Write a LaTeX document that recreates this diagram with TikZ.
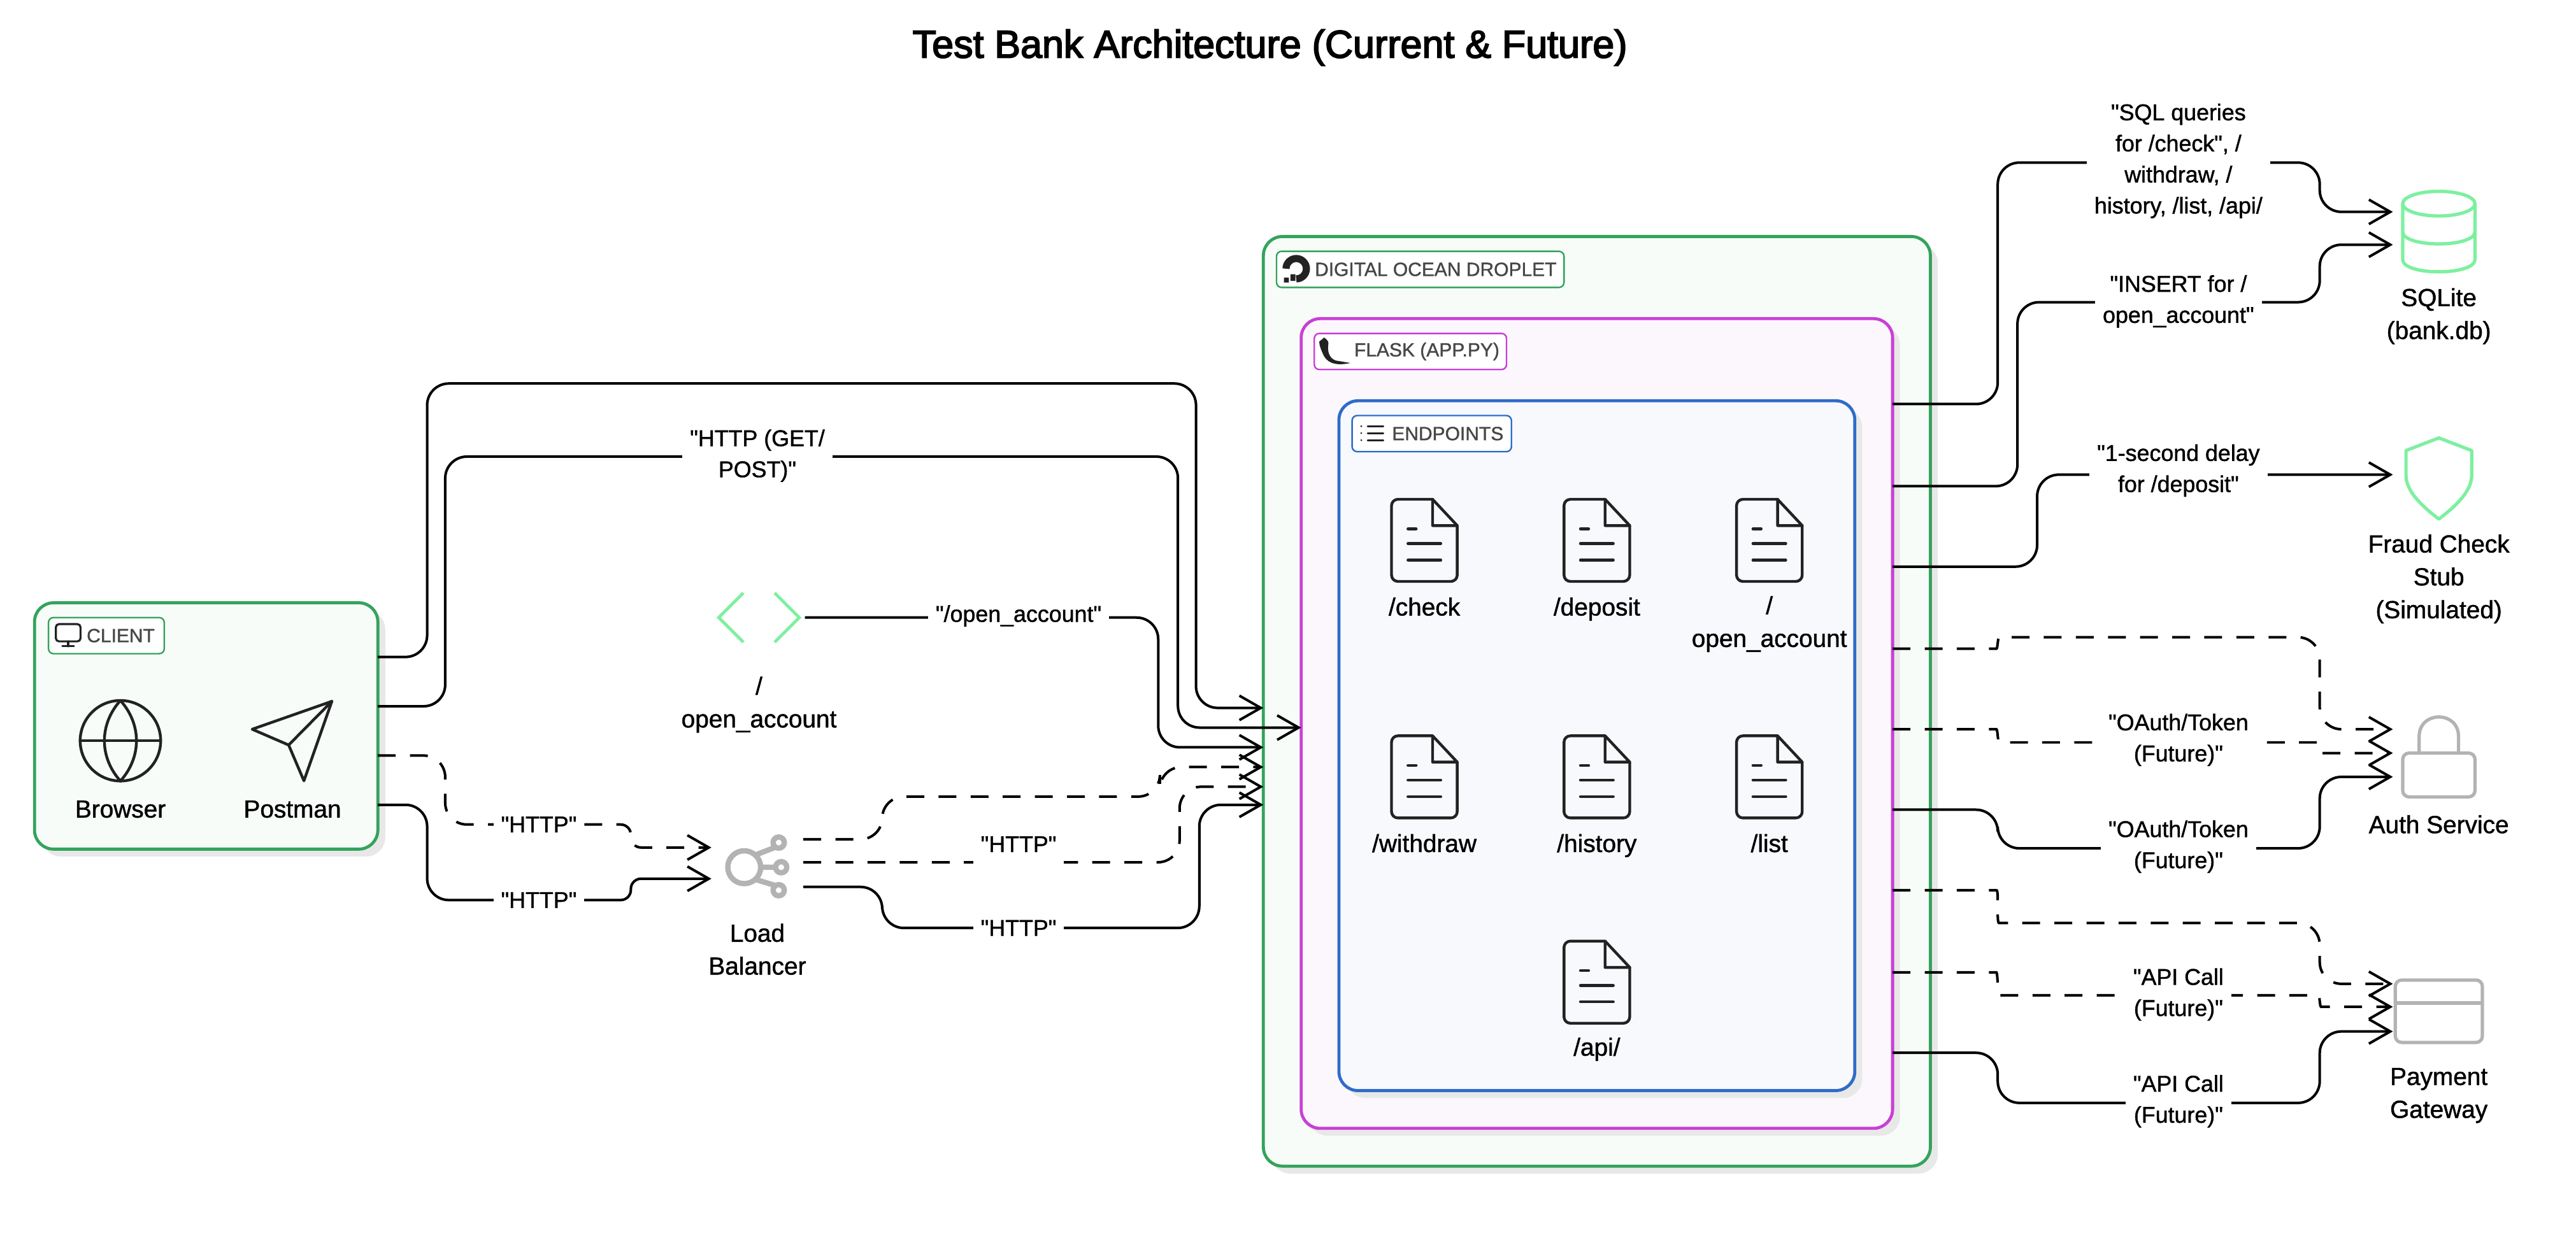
\documentclass[tikz,border=0pt]{standalone}
\usepackage{fontspec}
\setmainfont{Liberation Sans}
\newfontfamily\lblfont[FakeBold=1.2]{Liberation Sans}
\newfontfamily\titlefont[FakeBold=3]{Liberation Sans}
\usetikzlibrary{arrows.meta,fit,shadows}
\definecolor{groupgreen}{HTML}{34A35C}
\definecolor{grouppurple}{HTML}{C93FD6}
\definecolor{groupblue}{HTML}{2F6BC9}
\definecolor{fillgreen}{HTML}{F7FCF9}
\definecolor{fillpurple}{HTML}{FCF7FC}
\definecolor{fillblue}{HTML}{F7F9FD}
\definecolor{shadowgray}{HTML}{E8E8E8}
\definecolor{icongreen}{HTML}{7DF0A0}
\definecolor{icongray}{HTML}{B3B3B3}
\definecolor{icondark}{HTML}{222222}
\tikzset{
	container/.style={draw,line width=1.2pt,rounded corners=7.5pt,inner sep=0,outer sep=0,
		drop shadow={shadow xshift=2.9pt,shadow yshift=-2.9pt,fill=shadowgray,opacity=1}},
	tagbox/.style={draw,line width=.6pt,rounded corners=2pt,fill=white,inner sep=0,outer sep=0},
	tagtext/.style={anchor=west,inner sep=0,text=black!72,font=\lblfont\fontsize{7.5}{9}\selectfont},
	iconnode/.style={minimum size=36.1pt,inner sep=0,outer sep=0},
	docnode/.style={inner sep=0,outer sep=0,minimum width=25.8pt,minimum height=32.2pt},
	lbl/.style={align=center,inner sep=0,font=\lblfont\fontsize{9.7}{12.9}\selectfont},
	lblone/.style={lbl,text height=8pt,text depth=2.5pt},
	edgelbl/.style={align=center,fill=white,inner xsep=3pt,inner ysep=1.5pt,font=\lblfont\fontsize{8.95}{12.2}\selectfont},
	flow/.style={draw=black,line width=1pt,rounded corners=8.5pt,
		-{Straight Barb[length=8.4pt,width=9.6pt,line width=1pt]}},
	dashflow/.style={flow,dash pattern=on 7pt off 5.6pt},
	icondraw/.style={draw=icondark,line width=1.1pt,line join=round,line cap=round},
	doc/.pic={
		\draw[icondraw,rounded corners=2.5pt] (5,-25) -- (-20,-25) -- (-20,25) -- (20,25) -- (20,-9);
		\draw[icondraw] (5,-25) -- (5,-9) -- (20,-9) -- cycle;
		\draw[icondraw] (-10,-7) -- (-5,-7) (-10,2) -- (10,2) (-10,12) -- (10,12);
	},
	globe/.pic={
		\draw[icondraw] (0,0) circle [radius=24.5];
		\draw[icondraw] (-24.5,0) -- (24.5,0);
		\draw[icondraw] (0,-24.5) .. controls (-13,-10) and (-13,10) .. (0,24.5);
		\draw[icondraw] (0,-24.5) .. controls (13,-10) and (13,10) .. (0,24.5);
	},
	sendarrow/.pic={
		\draw[icondraw] (24,-24) -- (-24.5,-7) -- (-2.3,2.6) -- (7,24.4) -- cycle;
		\draw[icondraw] (-2.3,2.6) -- (24,-24);
	},
	codemark/.pic={
		\draw[draw=icongreen,line width=1.2pt] (-9.5,-15) -- (-24.5,0) -- (-9.5,15);
		\draw[draw=icongreen,line width=1.2pt] (9.5,-15) -- (24.5,0) -- (9.5,15);
	},
	hub/.pic={
		\draw[icongray,line width=2.1pt] (-8,0) circle [radius=10];
		\draw[icongray,line width=2.1pt] (13,-15) circle [radius=3.4] (14.5,0) circle [radius=3.4] (13,14) circle [radius=3.4];
		\draw[icongray,line width=2.1pt] (-1,-7.5) -- (10.5,-12) (2,0) -- (11,0) (-1,7.5) -- (10.5,11);
	},
	dbcan/.pic={
		\draw[draw=icongreen,line width=1.3pt] (0,-17) ellipse [x radius=22,y radius=7.5];
		\draw[draw=icongreen,line width=1.3pt] (-22,-17) -- (-22,17) .. controls (-22,27) and (22,27) .. (22,17) -- (22,-17);
		\draw[draw=icongreen,line width=1.3pt] (-22,0) .. controls (-22,10) and (22,10) .. (22,0);
	},
	shield/.pic={
		\draw[draw=icongreen,line width=1.3pt,line join=round] (0,-24.7) -- (-20,-17) -- (-20,-2)
			.. controls (-20,8) and (-10,17) .. (0,24.7)
			.. controls (10,17) and (20,8) .. (20,-2) -- (20,-17) -- cycle;
	},
	padlock/.pic={
		\draw[icongray,line width=1.3pt,rounded corners=2.5pt] (-22,-5) rectangle (22,21.7);
		\draw[icongray,line width=1.3pt] (-12,-5) -- (-12,-15) .. controls (-12,-31) and (12,-31) .. (12,-15) -- (12,-5);
	},
	paycard/.pic={
		\draw[icongray,line width=1.3pt,rounded corners=2.5pt] (-26.5,-19) rectangle (26.5,19);
		\draw[icongray,line width=1.3pt] (-26.5,-5) -- (26.5,-5);
	}
}
\begin{document}
\begin{tikzpicture}[x=0.6448pt,y=-0.6448pt]
	\useasboundingbox (0,0) rectangle (1568,753.4);
	\node[font=\titlefont\fontsize{15.25}{18}\selectfont] (title) at (773,29) {Test Bank Architecture (Current \& Future)};

	% groups
	\node[container,draw=groupgreen,fill=fillgreen,fit={(21,367) (230,517)}] (client) {};
	\node[container,draw=groupgreen,fill=fillgreen,fit={(769,144) (1175,710)}] (droplet) {};
	\node[container,draw=grouppurple,fill=fillpurple,fit={(792,194) (1152,687)}] (flask) {};
	\node[container,draw=groupblue,fill=fillblue,fit={(815,244) (1129,664)}] (endpoints) {};

	% group titles
	\node[tagbox,draw=groupgreen,fit={(29.5,376) (100,398)}] (clienttag) {};
	\node[tagtext] (clienttext) at (52.5,387) {CLIENT};
	\draw[icondraw,line width=.8pt,rounded corners=1.2pt] (34,380) rectangle (49,390.5);
	\draw[icondraw,line width=.8pt] (41.5,390.5) -- (41.5,393.5) (38,393.5) -- (45,393.5);
	\node[tagbox,draw=groupgreen,fit={(777,153) (952,175)}] (droplettag) {};
	\node[tagtext] (droplettext) at (800,164) {DIGITAL OCEAN DROPLET};
	\draw[icondark,line width=2.8pt] (782.8,163.6) .. controls (782.8,160.2) and (785.6,157.4) .. (789,157.4)
		.. controls (792.4,157.4) and (795.2,160.2) .. (795.2,163.6)
		.. controls (795.2,167) and (792.4,169.8) .. (789,169.8);
	\fill[icondark] (785.5,167) rectangle (788.5,171) (781.5,169) rectangle (784.5,172);
	\node[tagbox,draw=grouppurple,fit={(800,203) (917,225)}] (flasktag) {};
	\node[tagtext] (flasktext) at (824,214) {FLASK (APP.PY)};
	\fill[icondark] (806,205.5) .. controls (808,207) and (809,208) .. (808.5,210)
		.. controls (808,214) and (809,218) .. (813,219.5) -- (822,221)
		.. controls (815,222.5) and (809,222) .. (806,217)
		.. controls (804,213) and (803,210) .. (803,208) -- cycle;
	\node[tagbox,draw=groupblue,fit={(823,253) (920,275)}] (endpointstag) {};
	\node[tagtext] (endpointstext) at (847,264) {ENDPOINTS};
	\draw[icondraw,line width=.7pt] (832.5,259.5) -- (842,259.5) (832.5,263.7) -- (842,263.7) (832.5,268) -- (842,268);
	\fill[icondark] (828.6,259.5) circle [radius=.6] (828.6,263.7) circle [radius=.6] (828.6,268) circle [radius=.6];

	% client icons
	\node[iconnode] (browser) at (73.3,451) {};
	\pic at (browser) {globe};
	\node[lblone] (browserlbl) at (73.3,493.5) {Browser};
	\node[iconnode] (postman) at (178,451) {};
	\pic at (postman) {sendarrow};
	\node[lblone] (postmanlbl) at (178,493.5) {Postman};

	% left column
	\node[iconnode] (openacc) at (462,376) {};
	\pic at (openacc) {codemark};
	\node[lbl] (openacclbl) at (462,429) {/\\open\_account};
	\node[iconnode] (lb) at (461,528) {};
	\pic at (lb) {hub};
	\node[lbl] (lblbl) at (461,578) {Load\\Balancer};

	% endpoints
	\foreach \n/\x/\y in {check/867/329,deposit/972/329,withdraw/867/473,history/972/473,list/1077/473} {
		\node[docnode] (\n) at (\x,\y) {};
		\pic at (\n) {doc};
	}
	\node[lblone] (checklbl) at (867,370.5) {/check};
	\node[lblone] (depositlbl) at (972,370.5) {/deposit};
	\node[lblone] (withdrawlbl) at (867,514.5) {/withdraw};
	\node[lblone] (historylbl) at (972,514.5) {/history};
	\node[lblone] (listlbl) at (1077,514.5) {/list};
	\node[docnode] (openaccount) at (1077,329) {};
	\pic at (openaccount) {doc};
	\node[lbl] (openaccountlbl) at (1077,380) {/\\open\_account};
	\node[docnode] (api) at (972,598) {};
	\pic at (api) {doc};
	\node[lblone] (apilbl) at (972,638.5) {/api/};

	% right column
	\node[iconnode] (sqlite) at (1484.5,141) {};
	\pic at (sqlite) {dbcan};
	\node[lbl] (sqlitelbl) at (1484.5,192.5) {SQLite\\(bank.db)};
	\node[iconnode] (fraud) at (1484.5,289) {};
	\pic at ([yshift=-1.5pt]fraud) {shield};
	\node[lbl] (fraudlbl) at (1484.5,352.5) {Fraud Check\\Stub\\(Simulated)};
	\node[iconnode] (auth) at (1484.5,463.5) {};
	\pic at (auth) {padlock};
	\node[lblone] (authlbl) at (1484.5,503) {Auth Service};
	\node[iconnode] (payment) at (1484.5,615.7) {};
	\pic at (payment) {paycard};
	\node[lbl] (paymentlbl) at (1484.5,667) {Payment\\Gateway};

	% ports
	\foreach \n/\y in {ca/400,cb/430,cc/460,cd/490} \coordinate (\n) at (client.east |- 0,\y);
	\foreach \n/\y in {lia/516,lib/535} \coordinate (\n) at (lb.west |- 0,\y);
	\foreach \n/\y in {loa/511,lob/525,loc/540} \coordinate (\n) at (lb.east |- 0,\y);
	\foreach \n/\y in {dia/431,dib/455,dic/467,did/479,die/490} \coordinate (\n) at (droplet.west |- 0,\y);
	\coordinate (fin) at (flask.west |- 0,443);
	\foreach \n/\y in {fa/246,fb/296,fc/345,fd/395,fe/444,ff/493,fg/542,fh/592,fi/641} \coordinate (\n) at (flask.east |- 0,\y);
	\foreach \n/\y in {sa/129,sb/149} \coordinate (\n) at (sqlite.west |- 0,\y);
	\foreach \n/\y in {aa/444,ab/458.5,ac/473} \coordinate (\n) at (auth.west |- 0,\y);
	\foreach \n/\y in {pa/599,pb/613,pc/628} \coordinate (\n) at (payment.west |- 0,\y);

	% connectors
	\draw[flow] (ca) -| (260,233.5) -| (728,431) -- (dia);
	\draw[flow] (cb) -| (271,278) -| (717,443) -- (fin);
	\draw[dashflow] (cc) -| (271,502) [rounded corners=4pt] -| (384,516) -- (lia);
	\draw[flow] (cd) -| (260,548) [rounded corners=4pt] -| (384,535) -- (lib);
	\draw[flow] (openacc.east) -| (705,455) -- (dib);
	\draw[dashflow] (loa) -| (537,485) -| (706,467) -- (dic);
	\draw[dashflow] (lob) -| (718,479) -- (did);
	\draw[flow] (loc) -| (537,565) -| (730,490) -- (die);
	\draw[flow] (fa) -| (1216,99) -| (1412,129) -- (sa);
	\draw[flow] (fb) -| (1228,184) -| (1412,149) -- (sb);
	\draw[flow] (fc) -| (1240,289) -- (fraud.west);
	\draw[dashflow] (fd) -- (1202,395) .. controls (1216,395) and (1216,388) .. (1230,388) -| (1412,444) -- (aa);
	\draw[dashflow] (fe) -- (1202,444) .. controls (1216,444) and (1216,452) .. (1230,452)
		-- (1398,452) .. controls (1412,452) and (1412,458.5) .. (1426,458.5) -- (ab);
	\draw[flow] (ff) -| (1216,516.5) -| (1412,473) -- (ac);
	\draw[dashflow] (fg) -- (1202,542) .. controls (1217,542) and (1215,562) .. (1230,562) -| (1412,599) -- (pa);
	\draw[dashflow] (fh) -- (1202,592) .. controls (1216,592) and (1216,606) .. (1230,606)
		-- (1398,606) .. controls (1412,606) and (1412,613) .. (1426,613) -- (pb);
	\draw[flow] (fi) -| (1216,671.5) -| (1412,628) -- (pc);

	% connector labels
	\node[edgelbl] (httpmain) at (461,277.5) {"HTTP (GET/\\POST)"};
	\node[edgelbl] (httpa) at (328,502) {"HTTP"};
	\node[edgelbl] (httpb) at (328,548) {"HTTP"};
	\node[edgelbl] (openacclink) at (620,375) {"/open\_account"};
	\node[edgelbl,minimum height=16.5pt] (httpc) at (620,514) {"HTTP"};
	\node[edgelbl] (httpd) at (620,565) {"HTTP"};
	\node[edgelbl] (sqlq) at (1326,98) {"SQL queries\\for /check", /\\withdraw, /\\history, /list, /api/};
	\node[edgelbl] (insert) at (1326,183.5) {"INSERT for /\\open\_account"};
	\node[edgelbl] (delay) at (1326,286.5) {"1-second delay\\for /deposit"};
	\node[edgelbl] (oautha) at (1326,450.5) {"OAuth/Token\\(Future)"};
	\node[edgelbl] (oauthb) at (1326,515.5) {"OAuth/Token\\(Future)"};
	\node[edgelbl] (apia) at (1326,605.5) {"API Call\\(Future)"};
	\node[edgelbl] (apib) at (1326,670.5) {"API Call\\(Future)"};
\end{tikzpicture}
\end{document}
